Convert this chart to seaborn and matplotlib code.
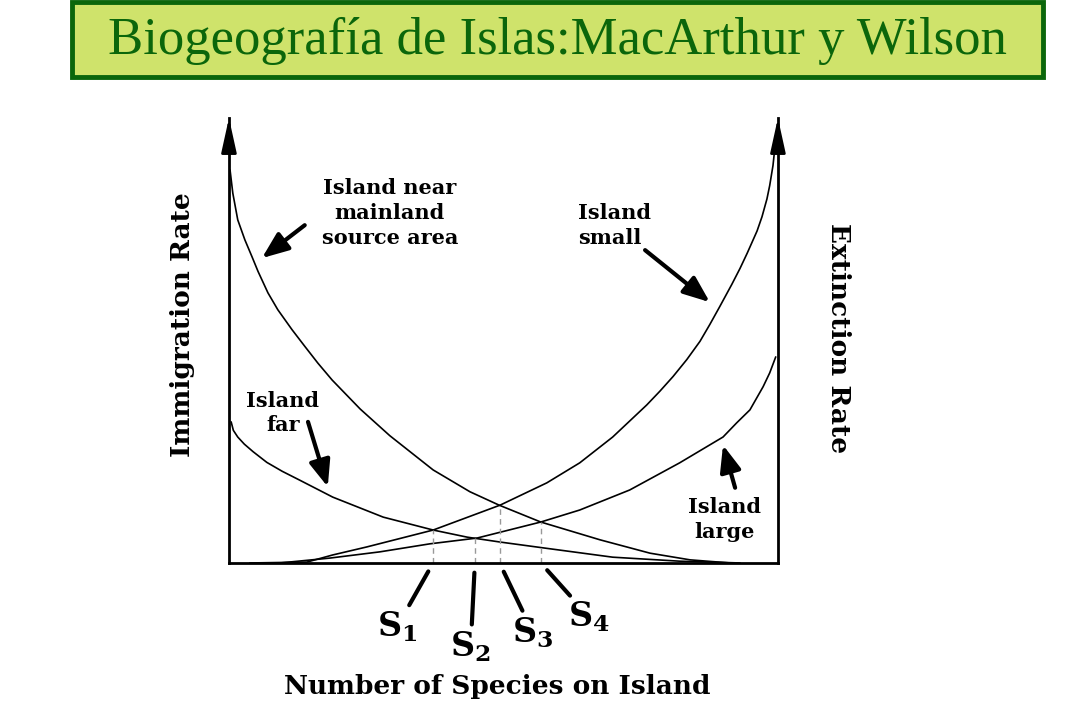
import numpy as np
import pandas as pd
import matplotlib
matplotlib.use("Agg")
import matplotlib.pyplot as plt
from matplotlib.patches import Rectangle
import seaborn as sns

# Curves: x = number of species (0-100), y = rate (0-100)
near_x = [0.2, 0.7, 1.6, 2.9, 4.2, 5.3, 7.1, 8.9, 11.5, 13.8, 16.2, 18.8, 23.9,
          29.3, 37.2, 43.9, 49.2, 56.8, 67.6, 76.7, 84.0, 91.3]
near_y = [88.3, 83.1, 77.1, 72.6, 68.8, 65.5, 60.7, 56.9, 52.4, 48.7, 44.9, 41.1, 34.6,
          28.6, 20.9, 16.0, 13.0, 9.2, 5.2, 2.2, 0.7, 0.0]

far_x = [0.4, 0.8, 1.6, 2.8, 4.4, 6.9, 9.7, 12.9, 18.9, 28.1, 37.2, 43.4, 49.4, 57.2, 69.9, 82.1, 93.1]
far_y = [31.7, 29.8, 28.3, 26.7, 25.0, 22.6, 20.6, 18.6, 14.8, 10.3, 7.4, 5.8, 4.7, 3.4, 1.3, 0.4, 0.0]

small_x = [3.8, 14.2, 18.9, 25.1, 37.2, 49.4, 57.9, 63.9, 69.9, 76.1, 78.5, 80.9, 83.4, 85.8,
           87.6, 89.4, 91.6, 93.1, 94.4, 96.2, 97.1, 98.0, 98.5, 99.1, 99.6]
small_y = [0.0, 0.2, 1.8, 3.6, 7.4, 13.0, 18.0, 22.5, 28.3, 35.5, 38.6, 41.9, 45.7, 49.8,
           53.6, 57.6, 62.6, 66.2, 69.6, 74.6, 77.8, 81.8, 84.8, 89.3, 95.1]

large_x = [9.3, 18.4, 27.5, 36.6, 45.2, 56.8, 63.9, 73.0, 82.1, 90.0, 92.5, 94.9, 97.3, 98.5, 99.6]
large_y = [0.0, 1.1, 2.5, 4.3, 5.6, 9.2, 11.9, 16.4, 22.5, 28.3, 31.5, 34.4, 39.6, 42.7, 46.3]

eq_labels = [r"$\mathbf{S_1}$", r"$\mathbf{S_2}$", r"$\mathbf{S_3}$", r"$\mathbf{S_4}$"]

title = "Biogeografía de Islas:MacArthur y Wilson"

curves = pd.concat([
    pd.DataFrame({"species": near_x, "rate": near_y, "curve": "near"}),
    pd.DataFrame({"species": far_x, "rate": far_y, "curve": "far"}),
    pd.DataFrame({"species": small_x, "rate": small_y, "curve": "small"}),
    pd.DataFrame({"species": large_x, "rate": large_y, "curve": "large"}),
])


def crossing(xa, ya, xb, yb):
    # where two read-off curves meet
    grid = np.linspace(max(xa[0], xb[0]), min(xa[-1], xb[-1]), 4000)
    d = np.interp(grid, xa, ya) - np.interp(grid, xb, yb)
    i = np.where(np.sign(d[:-1]) != np.sign(d[1:]))[0][0]
    return grid[i], np.interp(grid[i], xa, ya)


eq_points = [
    crossing(far_x, far_y, small_x, small_y),
    crossing(far_x, far_y, large_x, large_y),
    crossing(near_x, near_y, small_x, small_y),
    crossing(near_x, near_y, large_x, large_y),
]

sns.set_style("white")
plt.rcParams["font.family"] = ["DejaVu Serif"]
plt.rcParams["mathtext.fontset"] = "dejavuserif"
plt.rcParams["text.color"] = "black"

fig = plt.figure(figsize=(10.8, 7.2), dpi=100)
ax = fig.add_axes([0.2120, 0.2181, 0.5083, 0.6181])

sns.lineplot(data=curves, x="species", y="rate", units="curve", estimator=None,
             sort=False, color="black", lw=1.2, ax=ax, legend=False)

for sx, sy in eq_points:
    ax.plot([sx, sx], [0, sy], color="#999999", lw=1.0, ls=(0, (4, 3)))

ax.set_xlim(0, 100)
ax.set_ylim(0, 100)
ax.set_xticks([])
ax.set_yticks([])
ax.set_xlabel("")
ax.set_ylabel("")
ax.spines["top"].set_visible(False)
for s in ["left", "right", "bottom"]:
    ax.spines[s].set_linewidth(2)
    ax.spines[s].set_color("black")

# arrow heads on the two vertical axes
for xa in [0, 1]:
    ax.annotate("", xy=(xa, 1.0), xytext=(xa, 0.93), xycoords="axes fraction",
                arrowprops=dict(arrowstyle="-|>,head_length=1.5,head_width=0.33",
                                color="black", lw=2, mutation_scale=14,
                                shrinkA=0, shrinkB=0))

# S labels under the axis
offsets = [(-26, -46), (-3, -60), (24, -50), (35, -39)]
for (sx, sy), lab, off in zip(eq_points, eq_labels, offsets):
    ax.annotate(lab, xy=(sx, 0), xytext=off, textcoords="offset points",
                ha="center", va="center", fontsize=24, color="black",
                annotation_clip=False,
                arrowprops=dict(arrowstyle="-", lw=3, color="black",
                                shrinkA=1, shrinkB=7))

lbl = dict(fontsize=15, fontweight="bold", color="black", linespacing=1.3)
ax.text(29.3, 78.6, "Island near\nmainland\nsource area", ha="center", va="center", **lbl)
ax.text(9.8, 33.7, "Island\nfar", ha="center", va="center", **lbl)
ax.text(63.6, 75.9, "Island\nsmall", ha="left", va="center", **lbl)
ax.text(90.3, 9.7, "Island\nlarge", ha="center", va="center", **lbl)

arr = dict(arrowstyle="-|>,head_length=1.0,head_width=0.4", lw=3, color="black",
           mutation_scale=16, shrinkA=0, shrinkB=0)
ax.annotate("", xy=(6.0, 68.5), xytext=(13.8, 75.9), arrowprops=arr)
ax.annotate("", xy=(18.0, 17.1), xytext=(14.4, 31.7), arrowprops=arr)
ax.annotate("", xy=(87.6, 58.6), xytext=(75.8, 70.3), arrowprops=arr)
ax.annotate("", xy=(90.0, 26.5), xytext=(92.2, 16.9), arrowprops=arr)

fig.text(0.169, 0.549, "Immigration Rate", rotation=90, ha="center", va="center",
         fontsize=19, fontweight="bold", color="black")
fig.text(0.776, 0.531, "Extinction Rate", rotation=-90, ha="center", va="center",
         fontsize=19, fontweight="bold", color="black")
fig.text(0.460, 0.047, "Number of Species on Island", ha="center", va="center",
         fontsize=19, fontweight="bold", color="black")

# title box
fig.patches.append(Rectangle((0.0667, 0.893), 0.899, 0.104, transform=fig.transFigure,
                             facecolor="#cfe36b", edgecolor="#0b660b", lw=3.5))
fig.text(0.516, 0.943, title, ha="center", va="center", fontsize=38,
         color="#0b660b", family=["Liberation Serif", "DejaVu Serif"])

fig.savefig("out.png", dpi=100)
